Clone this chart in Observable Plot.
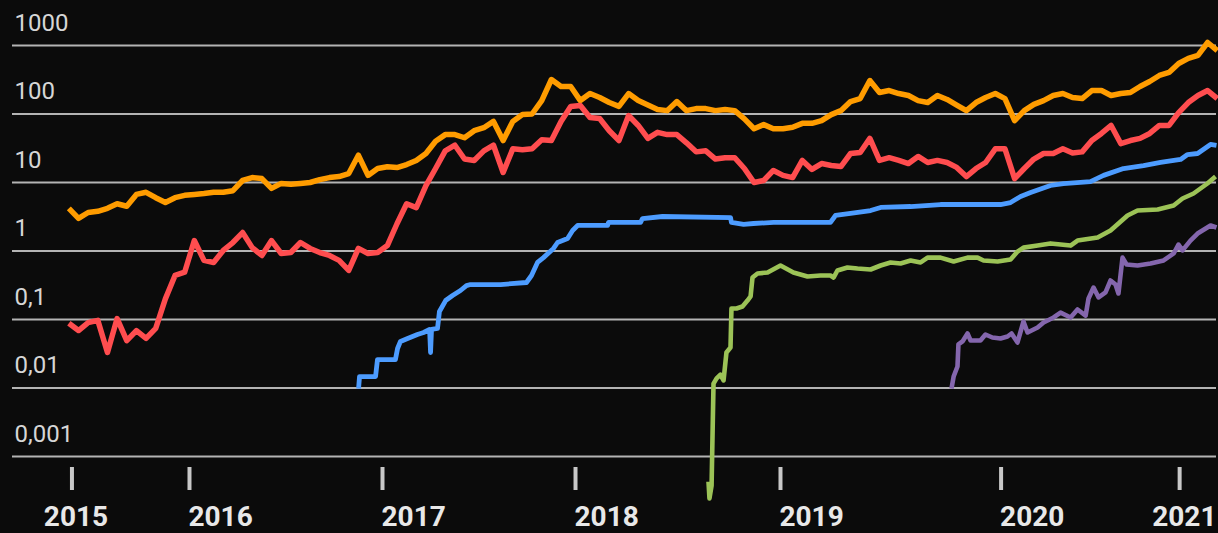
<!DOCTYPE html>
<html>
<head>
<meta charset="utf-8">
<script src="https://cdn.jsdelivr.net/npm/d3@7"></script>
<script src="https://cdn.jsdelivr.net/npm/@observablehq/plot@0.6"></script>
<style>
  html, body { margin: 0; padding: 0; background: #0b0b0b; }
  #chart { width: 1218px; height: 533px; overflow: hidden; }
</style>
</head>
<body>
<div id="chart"></div>
<script>
// ---- axis definitions ----
const xDomain = [2015.083, 2021.321];
const yTicks = [1000, 100, 10, 1, 0.1, 0.01, 0.001];
const yTickLabels = ["1000", "100", "10", "1", "0,1", "0,01", "0,001"];
const yearTicks = [2015.391, 2016, 2017, 2018, 2019.062, 2020.205, 2021.13];
const yearLabels = ["2015", "2016", "2017", "2018", "2019", "2020", "2021"];

// ---- regularly sampled series (every 0.05 year from sampleStart) ----
const sampleStart = 2015.375;
const sampleStep = 0.05;
const orangeValues = [
  4.2, 3.0, 3.65, 3.8, 4.2, 4.9, 4.5, 6.7, 7.2, 6.0,
  5.1, 6.0, 6.5, 6.7, 6.9, 7.2, 7.2, 7.6, 10.7, 11.8,
  11.4, 8.2, 9.7, 9.4, 9.7, 10, 11, 11.8, 12.2, 13.5,
  25, 12.7, 16, 17, 16.5, 18.3, 21, 26.5, 40, 50,
  50, 45, 57, 63, 78, 41, 78, 98, 100, 157,
  319, 252, 252, 157, 199, 174, 147, 129, 199, 157,
  135, 116, 112, 152, 112, 120, 120, 112, 116, 112,
  85, 61, 70, 61, 61, 64, 73, 73, 80, 98,
  112, 152, 168, 308, 206, 220, 199, 186, 157, 147,
  186, 163, 135, 112, 147, 174, 199, 168, 80, 112,
  138, 157, 186, 199, 174, 168, 220, 220, 186, 199,
  206, 252, 298, 365, 404, 546, 648, 716, 1106, 845
];
const redValues = [
  0.088, 0.069, 0.090, 0.097, 0.033, 0.103, 0.049, 0.069, 0.053, 0.074,
  0.20, 0.44, 0.49, 1.42, 0.73, 0.68, 1.02, 1.33, 1.86, 1.12,
  0.86, 1.42, 0.92, 0.95, 1.33, 1.09, 0.95, 0.86, 0.73, 0.52,
  1.09, 0.92, 0.95, 1.2, 2.5, 4.9, 4.3, 9.0, 16, 29,
  35, 22, 21, 29, 35, 14, 31, 30, 31, 42,
  41, 78, 129, 133, 89, 86, 57, 41, 95, 68,
  44, 54, 50, 50, 38, 28, 29, 22, 23, 23,
  16, 10, 10.7, 15, 12.7, 11.8, 21, 15.5, 18.9, 17.7,
  17.1, 26.5, 27.4, 44, 21, 23, 21, 18.9, 24, 19.6,
  21, 19.6, 16.6, 12.2, 16, 19.6, 31, 31, 11.4, 16,
  22, 26.5, 26.5, 31, 27, 28, 41, 52, 68, 37,
  41, 44, 52, 68, 68, 105, 147, 186, 220, 168
];

// ---- irregular series: [year, value] ----
const blue = [
  [2016.876, 0.0098], [2016.881, 0.0147], [2016.964, 0.0147], [2016.974, 0.026],
  [2017.067, 0.026], [2017.078, 0.0377], [2017.093, 0.0478], [2017.130, 0.0528],
  [2017.181, 0.0604], [2017.213, 0.0646], [2017.244, 0.0715], [2017.249, 0.033],
  [2017.254, 0.0715], [2017.285, 0.074], [2017.295, 0.131], [2017.327, 0.189],
  [2017.363, 0.224], [2017.404, 0.265], [2017.435, 0.313], [2017.456, 0.324],
  [2017.612, 0.324], [2017.746, 0.347], [2017.772, 0.439], [2017.803, 0.68],
  [2017.834, 0.80], [2017.886, 1.09], [2017.907, 1.33], [2017.959, 1.52],
  [2017.985, 1.99], [2018.011, 2.36], [2018.166, 2.36], [2018.171, 2.61],
  [2018.337, 2.61], [2018.347, 2.98], [2018.451, 3.19], [2018.803, 3.08],
  [2018.808, 2.61], [2018.871, 2.44], [2018.922, 2.52], [2019.026, 2.61],
  [2019.321, 2.61], [2019.347, 3.30], [2019.425, 3.53], [2019.529, 3.90],
  [2019.581, 4.32], [2019.736, 4.46], [2019.891, 4.77], [2020.202, 4.77],
  [2020.254, 5.10], [2020.306, 6.25], [2020.358, 7.14], [2020.461, 9.04],
  [2020.528, 9.66], [2020.668, 10.3], [2020.736, 12.7], [2020.839, 16.0],
  [2020.943, 17.7], [2021.031, 19.6], [2021.135, 21.7], [2021.171, 25.6],
  [2021.223, 26.5], [2021.290, 35.9], [2021.321, 34.7]
];
const green = [
  [2018.689, 0.000431], [2018.694, 0.000244], [2018.705, 0.000377], [2018.715, 0.0116],
  [2018.731, 0.0138], [2018.751, 0.0157], [2018.767, 0.0129], [2018.782, 0.033],
  [2018.803, 0.039], [2018.808, 0.145], [2018.834, 0.145], [2018.865, 0.155],
  [2018.891, 0.189], [2018.907, 0.217], [2018.917, 0.41], [2018.943, 0.47],
  [2018.995, 0.485], [2019.062, 0.614], [2019.129, 0.485], [2019.202, 0.425],
  [2019.269, 0.439], [2019.321, 0.439], [2019.337, 0.41], [2019.357, 0.519],
  [2019.409, 0.574], [2019.461, 0.555], [2019.529, 0.537], [2019.581, 0.614],
  [2019.632, 0.68], [2019.684, 0.657], [2019.736, 0.727], [2019.788, 0.68],
  [2019.824, 0.80], [2019.891, 0.80], [2019.959, 0.703], [2020.031, 0.80],
  [2020.083, 0.80], [2020.114, 0.727], [2020.187, 0.703], [2020.254, 0.751],
  [2020.290, 0.98], [2020.321, 1.12], [2020.394, 1.20], [2020.461, 1.29],
  [2020.565, 1.20], [2020.601, 1.42], [2020.705, 1.57], [2020.772, 1.99],
  [2020.860, 3.30], [2020.912, 3.90], [2021.016, 4.04], [2021.099, 4.62],
  [2021.145, 5.84], [2021.202, 6.91], [2021.274, 9.67], [2021.316, 12.2]
];
const purple = [
  [2019.948, 0.0098], [2019.959, 0.0147], [2019.979, 0.0206], [2019.984, 0.0432],
  [2020.005, 0.0478], [2020.031, 0.0625], [2020.047, 0.0494], [2020.098, 0.0494],
  [2020.124, 0.0604], [2020.160, 0.0546], [2020.202, 0.0528], [2020.238, 0.0565],
  [2020.259, 0.0625], [2020.290, 0.0462], [2020.321, 0.0935], [2020.342, 0.0646],
  [2020.394, 0.0764], [2020.425, 0.0904], [2020.477, 0.107], [2020.513, 0.126],
  [2020.565, 0.107], [2020.601, 0.14], [2020.643, 0.114], [2020.658, 0.203],
  [2020.684, 0.293], [2020.710, 0.21], [2020.746, 0.248], [2020.772, 0.371],
  [2020.798, 0.324], [2020.813, 0.24], [2020.834, 0.80], [2020.855, 0.635],
  [2020.912, 0.614], [2020.979, 0.657], [2021.047, 0.727], [2021.099, 0.92],
  [2021.124, 1.24], [2021.145, 1.02], [2021.186, 1.42], [2021.223, 1.80],
  [2021.290, 2.36], [2021.321, 2.20]
];

const colors = {
  orange: "#ff9c00",
  red: "#ff4d4f",
  blue: "#4d9cff",
  green: "#9cc357",
  purple: "#8466ad"
};

// ---- build tables ----
const regular = (vals) => vals.map((v, i) => ({ t: sampleStart + i * sampleStep, v }));
const pairs = (arr) => arr.map(([t, v]) => ({ t, v }));
const series = [
  { data: regular(orangeValues), color: colors.orange, w: 5.5 },
  { data: regular(redValues), color: colors.red, w: 5.5 },
  { data: pairs(blue), color: colors.blue, w: 4.8 },
  { data: pairs(green), color: colors.green, w: 4.6 },
  { data: pairs(purple), color: colors.purple, w: 4.6 }
];

const last = yearTicks.length - 1;
const labelRows = yearTicks.map((t, i) => ({ t, label: yearLabels[i], i }));

const yearTextStyle = {
  frameAnchor: "bottom", lineAnchor: "bottom", dy: 69,
  fill: "#e8e8e8", fontSize: 28, fontWeight: "bold", fontFamily: "Roboto"
};

const chart = Plot.plot({
  width: 1218,
  height: 533,
  marginTop: 45,
  marginBottom: 77,
  marginLeft: 12,
  marginRight: 2,
  style: { background: "#0b0b0b", overflow: "visible" },
  x: { type: "linear", domain: xDomain, axis: null },
  y: { type: "log", domain: [0.001, 1000], axis: null },
  marks: [
    Plot.ruleY(yTicks, { stroke: "#b4b4b4", strokeWidth: 1.8 }),
    Plot.text(yTicks, {
      y: (d) => d,
      text: (d, i) => yTickLabels[i],
      frameAnchor: "left", textAnchor: "start", lineAnchor: "bottom",
      dx: 2, dy: -15, fill: "#d6d6d6", fontSize: 24, fontFamily: "Roboto"
    }),
    Plot.axisX({
      ticks: yearTicks, tickSize: 23, dy: 11, fill: "none", label: null,
      stroke: "#c8c8c8", strokeWidth: 4
    }),
    ...series.map((s) =>
      Plot.line(s.data, {
        x: "t", y: "v", stroke: s.color, strokeWidth: s.w,
        strokeLinejoin: "round", strokeLinecap: "butt"
      })
    ),
    Plot.text(labelRows.filter((d) => d.i === 0), {
      x: "t", text: "label", textAnchor: "middle", dx: 4, ...yearTextStyle
    }),
    Plot.text(labelRows.filter((d) => d.i > 0 && d.i < last), {
      x: "t", text: "label", textAnchor: "start", dx: -1, ...yearTextStyle
    }),
    Plot.text(labelRows.filter((d) => d.i === last), {
      x: () => xDomain[1], text: "label", textAnchor: "end", ...yearTextStyle
    })
  ]
});

document.getElementById("chart").appendChild(chart);
</script>
</body>
</html>
